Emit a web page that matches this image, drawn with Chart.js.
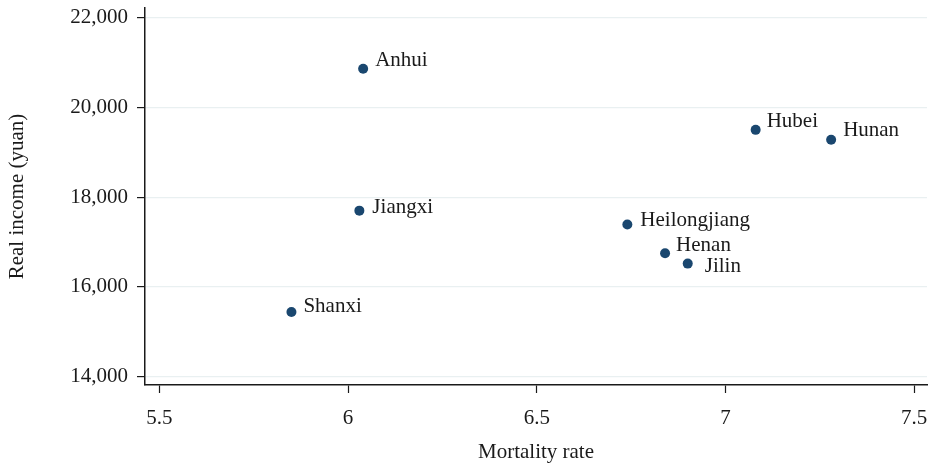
<!DOCTYPE html>
<html>
<head>
<meta charset="utf-8">
<script src="https://cdn.jsdelivr.net/npm/chart.js@4.4.1/dist/chart.umd.min.js"></script>
<style>
  html, body { margin: 0; padding: 0; background: #ffffff; }
  #wrap { width: 932px; height: 465px; }
</style>
</head>
<body>
<div id="wrap"><canvas id="c" width="932" height="465"></canvas></div>
<script>
// Provinces with mortality rate and real income
const provinces = ['Anhui', 'Hubei', 'Hunan', 'Jiangxi', 'Heilongjiang', 'Henan', 'Jilin', 'Shanxi'];
const mortalityRate = [6.04, 7.08, 7.28, 6.03, 6.74, 6.84, 6.90, 5.85];
const realIncome = [20860, 19500, 19280, 17700, 17390, 16750, 16520, 15440];

// Axis tick values
const xTicks = [5.5, 6, 6.5, 7, 7.5];
const yTicks = [14000, 16000, 18000, 20000, 22000];

// Per-label nudges (pixels) so marker labels sit clear of each other
const labelNudgeX = [12, 11, 12, 13, 13, 11, 17, 12];
const labelNudgeY = [-8, -8, -9, -3, -4, -8, 3, -6];

const FONT = '"Liberation Serif", "Times New Roman", serif';
const INK = '#1a1a1a';
const MARKER = '#1a476f';
const SIZE = 21;

const points = mortalityRate.map((x, i) => ({ x: x, y: realIncome[i] }));

const markerLabels = {
  id: 'markerLabels',
  afterDatasetsDraw(chart) {
    const ctx = chart.ctx;
    const meta = chart.getDatasetMeta(0);
    ctx.save();
    ctx.font = SIZE + 'px ' + FONT;
    ctx.fillStyle = INK;
    ctx.textAlign = 'left';
    ctx.textBaseline = 'middle';
    meta.data.forEach((el, i) => {
      ctx.fillText(provinces[i], el.x + labelNudgeX[i], el.y + labelNudgeY[i]);
    });
    ctx.restore();
  }
};

new Chart(document.getElementById('c'), {
  type: 'scatter',
  data: {
    datasets: [{
      data: points,
      backgroundColor: MARKER,
      borderWidth: 0,
      pointRadius: 5,
      pointHoverRadius: 5
    }]
  },
  options: {
    responsive: false,
    animation: false,
    layout: { padding: { top: 8, right: 4, left: 0, bottom: 0 } },
    plugins: { legend: { display: false }, tooltip: { enabled: false } },
    scales: {
      x: {
        type: 'linear',
        min: 5.462,
        max: 7.534,
        afterBuildTicks(scale) { scale.ticks = xTicks.map(v => ({ value: v })); },
        afterFit(scale) {
          scale.height = 80;
          scale.paddingLeft = 0;
          scale.paddingRight = 0;
        },
        border: { color: INK, width: 1.5 },
        grid: { drawOnChartArea: false, tickLength: 8, tickColor: INK, tickWidth: 1.2 },
        ticks: {
          color: INK,
          font: { family: FONT, size: SIZE },
          padding: 13,
          maxRotation: 0,
          callback: v => String(v)
        },
        title: {
          display: true,
          text: 'Mortality rate',
          color: INK,
          font: { family: FONT, size: SIZE },
          padding: { top: 4, bottom: 0 }
        }
      },
      y: {
        type: 'linear',
        min: 13815,
        max: 22215,
        afterBuildTicks(scale) { scale.ticks = yTicks.map(v => ({ value: v })); },
        afterFit(scale) {
          scale.width = 145;
          scale.paddingTop = 0;
          scale.paddingBottom = 0;
        },
        border: { color: INK, width: 1.5 },
        grid: { color: '#e9f0f1', lineWidth: 1.2, tickLength: 8, tickColor: INK, tickWidth: 1.2 },
        ticks: {
          color: INK,
          font: { family: FONT, size: SIZE },
          padding: 9,
          callback: v => v.toLocaleString('en-US')
        },
        title: {
          display: true,
          text: 'Real income (yuan)',
          color: INK,
          font: { family: FONT, size: SIZE },
          padding: { top: 5, bottom: 0 }
        }
      }
    }
  },
  plugins: [markerLabels]
});
</script>
</body>
</html>
